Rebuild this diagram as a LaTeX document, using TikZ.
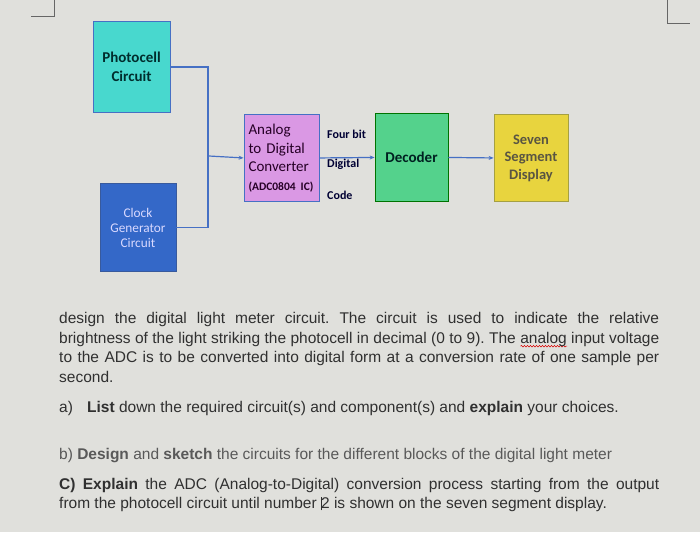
\documentclass[tikz,border=0pt]{standalone}
\usepackage{fontspec}
\setmainfont{Liberation Sans}
\newfontfamily\blockfont{Carlito}
\usepackage{tikz}
\usetikzlibrary{arrows.meta,decorations.pathmorphing}

\definecolor{paper}{RGB}{224,224,220}
\definecolor{wire}{RGB}{70,112,196}
\definecolor{photofill}{RGB}{72,216,206}
\definecolor{clockfill}{RGB}{52,104,200}
\definecolor{adcfill}{RGB}{218,152,228}
\definecolor{decfill}{RGB}{84,210,140}
\definecolor{segfill}{RGB}{232,212,62}
\definecolor{ink}{RGB}{48,48,48}

\newsavebox\wavebox
\newcommand\spellwave[1]{\sbox\wavebox{#1}\rlap{\tikz[baseline=0pt]\draw[red!85!black,line width=0.5pt,
  decorate,decoration={snake,amplitude=0.8pt,segment length=3pt}] (0pt,-3pt) -- (\wd\wavebox,-3pt);}#1}
\frenchspacing

\begin{document}
\begin{tikzpicture}[x=1pt,y=-1pt,
    block/.style={draw=wire,line width=0.8pt,inner sep=0pt,align=center,font=\blockfont},
    link/.style={wire,line width=1.2pt},
    feed/.style={link,-{Stealth[length=5pt,width=4pt]}},
    bitlabel/.style={anchor=west,inner sep=0pt,text=black!80!blue,font=\blockfont\fontsize{12}{13}\selectfont\bfseries},
    para/.style={anchor=base west,inner sep=0pt,text width=600pt,align=justify,text=ink,
      font=\fontsize{15.5}{19.7}\selectfont}]
    \fill[paper] (0,0) rectangle (700,532);
    \draw[black!60,line width=0.9pt] (31,16) -- (54,16) -- (54,0);
    \draw[black!60,line width=0.9pt] (667,0) -- (667,23) -- (690,23);

    \node[block,fill=photofill,minimum width=77pt,minimum height=91pt,text=black!65!teal,
      font=\blockfont\fontsize{15}{19}\selectfont\bfseries] (photo) at (131.5,66.5)
      {Photocell\\Circuit};
    \node[block,draw=wire!80!black,fill=clockfill,minimum width=76pt,minimum height=88pt,text=white!85!blue,
      font=\blockfont\fontsize{13.3}{15}\selectfont] (clock) at (138,227)
      {Clock\\Generator\\Circuit};
    \node[block,fill=adcfill,minimum width=75pt,minimum height=87pt,text=black!70!violet,
      align=left,text width=66pt,font=\blockfont\fontsize{15}{18.5}\selectfont] (adc) at (281.5,157.5)
      {Analog\\to Digital\\Converter\\\mbox{\fontsize{11.5}{13}\selectfont\bfseries (ADC0804 IC)}};
    \node[block,draw=green!45!black,fill=decfill,minimum width=73pt,minimum height=88pt,
      text=black!75!teal,font=\blockfont\fontsize{15}{18}\selectfont\bfseries] (dec) at (411.5,157)
      {Decoder};
    \node[block,draw=black!40!yellow,fill=segfill,minimum width=74pt,minimum height=87pt,
      text=black!75!yellow,font=\blockfont\fontsize{14.5}{17.5}\selectfont\bfseries] (seg) at (531,157.5)
      {Seven\\Segment\\Display};

    \coordinate (bus) at (208,155.5);
    \draw[link] (photo.east) -| (bus) |- (clock.east);
    \draw[feed] (bus) -- (adc.west);
    \draw[feed] (adc.east) -- (dec.west);
    \draw[feed] (dec.east) -- (seg.west);

    \node[bitlabel] (fourbit) at (327,133.5) {Four bit};
    \node[bitlabel] (digital) at (327,163.5) {Digital};
    \node[bitlabel] (code) at (327,194.5) {Code};

    \node[para] (task) at (59,323)
      {design the digital light meter circuit. The circuit is used to indicate the relative\linebreak
       brightness of the light striking the photocell in decimal (0 to 9). The \spellwave{analog} input voltage\linebreak
       to the ADC is to be converted into digital form at a conversion rate of one sample per\linebreak
       second.};
    \node[para] (parta) at (59,412)
      {\makebox[28pt][l]{a)}\textbf{List} down the required circuit(s) and component(s) and \textbf{explain} your choices.};
    \node[para,text=black!65] (partb) at (59,459.5)
      {b) \textbf{Design} and \textbf{sketch} the circuits for the different blocks of the digital light meter};
    \node[para,font=\fontsize{15.5}{18.5}\selectfont] (partc) at (59,489.5)
      {\textbf{C) Explain} the ADC (Analog-to-Digital) conversion process starting from the output\linebreak
       from the photocell circuit until number \rlap{\kern-0.5pt\rule[-2pt]{0.6pt}{13pt}}2 is shown on the seven segment display.};
  \end{tikzpicture}
\end{document}
